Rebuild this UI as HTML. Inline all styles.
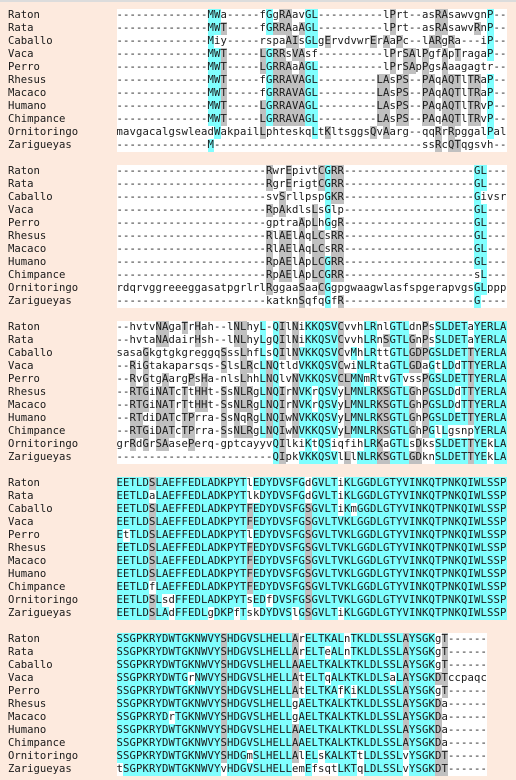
<!DOCTYPE html>
<html><head><meta charset="utf-8">
<style>
html,body{margin:0;padding:0;}
body{width:516px;height:780px;background:#fdeade;position:relative;overflow:hidden;font-family:"DejaVu Sans Mono","Liberation Mono",monospace;font-size:10.6px;color:#1a1a1a;}
#topline{position:absolute;left:0;top:0;width:516px;height:2px;background:#dcdcdc;}
.lbl{position:absolute;left:8px;height:13px;line-height:13px;white-space:pre;}
.row{position:absolute;left:116.5px;height:13px;line-height:13px;display:flex;background:#fff;}
.row span{display:inline-block;width:6.5px;height:13px;text-align:center;overflow:visible;}
.c{background:#80ffff;}
.g{background:#c0c0c0;}
</style></head>
<body>
<div id="topline"></div>
<div id="root"></div>
<script>
const names = ["Raton","Rata","Caballo","Vaca","Perro","Rhesus","Macaco","Humano","Chimpance","Ornitoringo","Zarigueyas"];
const block1 = [
"--------------MWa-----fGgRAavGL----------lPrt--asRAsawvgnP--",
"--------------MWT-----fGRRAaAGL----------lPrt--asRAsawvRnP--",
"--------------Miy-----rspaAIsGLgErvdvwrErAaPc--lARgRa---iP--",
"--------------MWT-----LGRRsVAsf----------lPrSAlPgfApTragaP--",
"--------------MWT-----LGRRAaAGL----------lPrSApPgsAaagagtr--",
"--------------MWT-----fGRRAVAGL---------LAsPS--PAqAQTlTRaP--",
"--------------MWT-----fGRRAVAGL---------LAsPS--PAqAQTlTRaP--",
"--------------MWT-----LGRRAVAGL---------LAsPS--PAqAQTlTRvP--",
"--------------MWT-----LGRRAVAGL---------LAsPS--PAqAQTlTRvP--",
"mavgacalgswleadWakpailLphteskqLtKltsggsQvAarg--qqRrRpggalPal",
"--------------M--------------------------------ssRcQTqgsvh--"];
const block2 = [
"-----------------------RwrEpivtCGRR--------------------GL---",
"-----------------------RgrErigtCGRR--------------------GL---",
"-----------------------svSrllpspGKR--------------------Givsr",
"-----------------------RpAkdlsLsGlp--------------------GL---",
"-----------------------gptraApLhGgR--------------------GL---",
"-----------------------RlAElAqLCsRR--------------------GL---",
"-----------------------RlAElAqLCsRR--------------------GL---",
"-----------------------RpAElApLCGRR--------------------GL---",
"-----------------------RpAElApLCGRR--------------------sL---",
"rdqrvggreeeggasatpgrlrlRggaaSaaCGgpgwaagwlasfspgerapvgsGLppp",
"-----------------------katknSqfqGfR--------------------G----"];
const block3 = [
"--hvtvNAgaTrHah--lNLhyL-QIlNiKKQSVCvvhLRnlGTLdnPsSLDETaYERLA",
"--hvtaNAdairHsh--lNLhyLgQIlNiKKQSVCvvhLRnSGTLGnPsSLDETaYERLA",
"sasaGkgtgkgreggqSssLhfLsQIlNVKKQSVCvMhLRttGTLGDPGSLDETTYERLA",
"--RiGtakaparsqs-SlsLRcLNQtldVKKQSVCwiNLRtaGTLGDaGtLDdTTYERLA",
"--RvGtgAargPsHa-nlsLhhLNQlvNVKKQSVCLMNmRtvGTvssPGSLDETTYERLA",
"--RTGiNATcTtHHt-SsNLRgLNQIrNVKrQSVyLMNLRKSGTLGhPGSLDdTTYERLA",
"--RTGiNATrTtHHt-SsNLRgLNQIrNVKrQSVyLMNLRKSGTLGhPGSLDdTTYERLA",
"--RTdiDATcTPrra-SsNqRgLNQIwNVKKQSVyLMNLRKSGTLGhPGSLDETTYERLA",
"--RTGiDATcTPrra-SsNLRgLNQIwNVKKQSVyLMNLRKSGTLGhPGlLgsnpYERLA",
"grRdGrSAasePerq-gptcayyvQIlkiKtQSiqfihLRKaGTLsDksSLDETTYEkLA",
"------------------------QIpkVKKQSVlLlNLRKSGTLGDknSLDETTYEkLA"];
const block4 = [
"EETLDSLAEFFEDLADKPYTlEDYDVSFGdGVLTiKLGGDLGTYVINKQTPNKQIWLSSP",
"EETLDaLAEFFEDLADKPYTlkDYDVSFGdGVLTiKLGGDLGTYVINKQTPNKQIWLSSP",
"EETLDSLAEFFEDLADKPYTFEDYDVSFGSGVLTiKmGGDLGTYVINKQTPNKQIWLSSP",
"EETLDSLAEFFEDLADKPYTFEDYDVSFGSGVLTVKLGGDLGTYVINKQTPNKQIWLSSP",
"EtTLDSLAEFFEDLADKPYTlEDYDVSFGSGVLTVKLGGDLGTYVINKQTPNKQIWLSSP",
"EETLDSLAEFFEDLADKPYTFEDYDVSFGSGVLTVKLGGDLGTYVINKQTPNKQIWLSSP",
"EETLDSLAEFFEDLADKPYTFEDYDVSFGSGVLTVKLGGDLGTYVINKQTPNKQIWLSSP",
"EETLDSLAEFFEDLADKPYTFEDYDVSFGSGVLTVKLGGDLGTYVINKQTPNKQIWLSSP",
"EETLDfLAEFFEDLADKPYTFEDYDVSFGSGVLTVKLGGDLGTYVINKQTPNKQIWLSSP",
"EETLDSLsdFFEDLADKPYTsEDfDVSFGSGVLTVKLGGDLGTYVINKQTPNKQIWLSSP",
"EETLDSLAdFFEDLgDKPfTskDYDVSlGSGVLTiKLGGDLGTYVINKQTPNKQIWLSSP"];
const block5 = [
"SSGPKRYDWTGKNWVYSHDGVSLHELLArELTKALnTKLDLSSLAYSGKgT------",
"SSGPKRYDWTGKNWVYSHDGVSLHELLArELTeALnTKLDLSSLAYSGKgT------",
"SSGPKRYDWTGKNWVYSHDGVSLHELLAAELTKALKTKLDLSSLAYSGKgT------",
"SSGPKRYDWTGrNWVYSHDGVSLHELLAtELTqALKTKLDLSaLAYSGKDTccpaqc",
"SSGPKRYDWTGKNWVYSHDGVSLHELLAtELTKAfKiKLDLSSLAYSGKgT------",
"SSGPKRYDWTGKNWVYSHDGVSLHELLgAELTKALKTKLDLSSLAYSGKDa------",
"SSGPKRYDrTGKNWVYSHDGVSLHELLgAELTKALKTKLDLSSLAYSGKDa------",
"SSGPKRYDWTGKNWVYSHDGVSLHELLAAELTKALKTKLDLSSLAYSGKDa------",
"SSGPKRYDWTGKNWVYSHDGVSLHELLAAELTKALKTKLDLSSLAYSGKDa------",
"SSGPKRYDWTGKNWVYSHDGmSLHELLAlELsKALKTtLDLSSLvYSGKDT------",
"tSGPKRYDWTGKNWVYvHDGVSLHELLemEfsqtLKTqLDLSSLvYSGKDT------"];
const blocks = [block1, block2, block3, block4, block5];
function allBut(n, ex){const a=[];for(let i=0;i<n;i++) if(!ex.includes(i)) a.push(i);return a;}
const cyanCols = [
  [14,15,23,29,30,57],
  [32,55,56],
  [22,24,28,29,30,31,32,33,36,37,38,39,42,43,44,48,49,50,51,52,53,55,56,57,58,59],
  allBut(60,[5,20,29]),
  allBut(57,[16,27,44,49,50])
];
const root = document.getElementById('root');
blocks.forEach((blk, b) => {
  blk.forEach((seq, r) => {
    const top = 9 + b*156 + r*13;
    const lb = document.createElement('div');
    lb.className = 'lbl';
    lb.style.top = top + 'px';
    lb.textContent = names[r];
    
    
    root.appendChild(lb);
    const row = document.createElement('div');
    row.className = 'row';
    row.style.top = top + 'px';
    
    
    for (let i = 0; i < seq.length; i++) {
      const ch = seq[i];
      const s = document.createElement('span');
      s.textContent = ch;
      if (ch >= 'A' && ch <= 'Z') {
        s.className = cyanCols[b].includes(i) ? 'c' : 'g';
      }
      row.appendChild(s);
    }
    root.appendChild(row);
  });
});
</script>
</body></html>
